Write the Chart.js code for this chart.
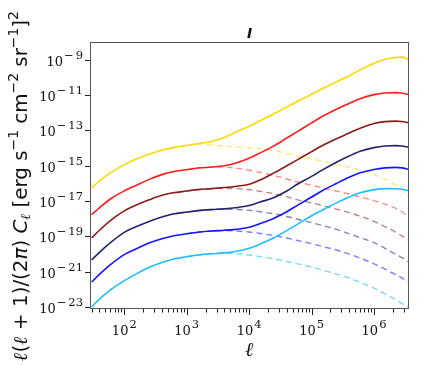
<!DOCTYPE html>
<html><head><meta charset="utf-8">
<script src="https://cdn.jsdelivr.net/npm/chart.js@4/dist/chart.umd.min.js"></script>
<style>html,body{margin:0;padding:0;background:#fff}canvas{display:block}</style>
</head><body>
<canvas id="c" width="424" height="366"></canvas>
<script>
// multipoles for the solid curves
const ell = [30,40,60,100,150,250,400,600,1000,1500,2500,4000,6000,1e4,1.5e4,2.5e4,4e4,6e4,1e5,1.5e5,2.5e5,4e5,6e5,1e6,1.5e6,2.2e6,2.8e6,3.5e6];
// multipoles for the dashed curves
const ellDashed = [1000,1500,2500,4000,6000,1e4,1.5e4,2.5e4,4e4,6e4,1e5,1.5e5,2.5e5,4e5,6e5,1e6,1.5e6,2.2e6,2.8e6,3.5e6];

// solid curves
const yellowSolid = [6.31e-17,1.58e-16,4.47e-16,1.26e-15,2.51e-15,5.01e-15,8.51e-15,1.20e-14,1.58e-14,2.00e-14,2.69e-14,4.47e-14,8.91e-14,1.91e-13,3.98e-13,1.0e-12,2.34e-12,5.01e-12,1.26e-11,2.63e-11,6.31e-11,1.41e-10,3.02e-10,7.08e-10,1.20e-9,1.51e-9,1.58e-9,1.17e-9];
const redSolid = [1.91e-18,4.68e-18,1.48e-17,4.27e-17,8.32e-17,1.91e-16,3.55e-16,5.13e-16,6.76e-16,8.32e-16,9.55e-16,1.12e-15,1.58e-15,3.02e-15,6.03e-15,1.51e-14,4.17e-14,1.0e-13,3.02e-13,7.08e-13,1.78e-12,3.80e-12,7.08e-12,1.20e-11,1.48e-11,1.55e-11,1.48e-11,1.20e-11];
const darkRedSolid = [9.12e-20,2.51e-19,8.91e-19,3.16e-18,6.31e-18,1.32e-17,2.40e-17,3.31e-17,4.17e-17,5.01e-17,5.75e-17,6.61e-17,7.59e-17,1.0e-16,1.78e-16,4.47e-16,1.12e-15,2.51e-15,7.08e-15,1.58e-14,3.80e-14,7.94e-14,1.51e-13,2.75e-13,3.55e-13,3.80e-13,3.63e-13,3.09e-13];
const navySolid = [5.25e-21,1.41e-20,5.01e-20,1.91e-19,3.80e-19,7.94e-19,1.41e-18,2.09e-18,2.69e-18,3.24e-18,3.72e-18,4.07e-18,4.68e-18,6.31e-18,1.0e-17,1.78e-17,4.17e-17,1.05e-16,2.82e-16,6.61e-16,1.78e-15,3.98e-15,7.41e-15,1.20e-14,1.48e-14,1.55e-14,1.48e-14,1.29e-14];
const blueSolid = [2.95e-22,7.94e-22,2.82e-21,1.05e-20,2.09e-20,4.79e-20,8.32e-20,1.20e-19,1.58e-19,1.95e-19,2.29e-19,2.51e-19,2.82e-19,3.72e-19,6.03e-19,1.20e-18,2.82e-18,6.61e-18,1.91e-17,4.47e-17,1.12e-16,2.51e-16,4.47e-16,6.92e-16,8.51e-16,9.12e-16,8.51e-16,7.08e-16];
const cyanSolid = [1.15e-23,3.16e-23,1.05e-22,3.55e-22,7.94e-22,2.00e-21,3.80e-21,5.75e-21,7.94e-21,1.0e-20,1.17e-20,1.32e-20,1.58e-20,2.40e-20,4.17e-20,9.55e-20,2.40e-19,5.62e-19,1.66e-18,3.55e-18,8.91e-18,1.91e-17,3.31e-17,5.01e-17,5.75e-17,5.62e-17,5.25e-17,4.47e-17];

// dashed curves
const yellowDashed = [1.58e-14,1.91e-14,1.66e-14,1.45e-14,1.32e-14,1.17e-14,1.05e-14,7.94e-15,5.62e-15,3.98e-15,2.82e-15,2.00e-15,1.35e-15,9.33e-16,6.31e-16,3.55e-16,2.00e-16,8.91e-17,4.47e-17,2.24e-17];
const redDashed = [6.76e-16,8.32e-16,9.33e-16,9.55e-16,8.32e-16,6.31e-16,4.68e-16,3.16e-16,2.00e-16,1.35e-16,8.91e-17,6.31e-17,4.17e-17,2.82e-17,1.91e-17,1.20e-17,7.59e-18,4.47e-18,2.82e-18,1.51e-18];
const darkRedDashed = [4.17e-17,5.01e-17,5.75e-17,6.03e-17,5.75e-17,5.01e-17,3.98e-17,2.95e-17,2.00e-17,1.32e-17,8.91e-18,6.31e-18,3.98e-18,2.51e-18,1.58e-18,7.94e-19,3.98e-19,2.00e-19,1.20e-19,7.08e-20];
const navyDashed = [2.69e-18,3.24e-18,3.72e-18,3.98e-18,3.80e-18,3.39e-18,2.82e-18,2.14e-18,1.51e-18,1.05e-18,6.76e-19,4.68e-19,2.82e-19,1.58e-19,9.55e-20,5.01e-20,2.40e-20,1.12e-20,7.08e-21,4.17e-21];
const blueDashed = [1.58e-19,1.95e-19,2.29e-19,2.40e-19,2.29e-19,2.00e-19,1.66e-19,1.26e-19,9.12e-20,6.61e-20,4.37e-20,3.02e-20,1.91e-20,1.12e-20,6.61e-21,3.16e-21,1.58e-21,7.94e-22,5.01e-22,2.95e-22];
const cyanDashed = [7.94e-21,1.0e-20,1.17e-20,1.26e-20,1.17e-20,1.0e-20,7.94e-21,6.03e-21,4.37e-21,3.16e-21,2.09e-21,1.41e-21,8.32e-22,5.01e-22,2.82e-22,1.32e-22,6.31e-23,3.02e-23,1.78e-23,1.12e-23];

// axis tick labels (powers of ten)
const xTickExponents = [2,3,4,5,6];
const yTickExponents = [-23,-21,-19,-17,-15,-13,-11,-9];
const titleText = 'I';
const xTitle = 'ℓ';

const colors = ['#FFD700','#FF1A1A','#8B1A1A','#23236E','#1414FF','#1EBEFF'];
const dashedColors = ['rgba(255,215,0,0.55)','rgba(255,26,26,0.5)','rgba(139,26,26,0.55)','rgba(35,35,110,0.55)','rgba(20,20,255,0.55)','rgba(30,190,255,0.6)'];

function pts(xs, ys){ return xs.map((x,i)=>({x:x, y:ys[i]})); }
const solids = [yellowSolid, redSolid, darkRedSolid, navySolid, blueSolid, cyanSolid];
const dashes = [yellowDashed, redDashed, darkRedDashed, navyDashed, blueDashed, cyanDashed];
const datasets = [];
solids.forEach((s,i)=>datasets.push({data:pts(ell,s), borderColor:colors[i], borderWidth:1.6, pointRadius:0, fill:false, cubicInterpolationMode:'monotone'}));
dashes.forEach((s,i)=>datasets.push({data:pts(ellDashed,s), borderColor:dashedColors[i], borderWidth:1.4, borderDash:[6,4], pointRadius:0, fill:false, cubicInterpolationMode:'monotone'}));

const SERIF = "'DejaVu Serif', serif";
const BASE_FONT = '13px ' + SERIF, EXP_FONT = '11.5px ' + SERIF;
function drawPow(ctx, exp, x, yBase, align){
  const base = '10';
  const neg = exp < 0, digits = String(Math.abs(exp));
  ctx.font = BASE_FONT; const wb = ctx.measureText(base).width;
  ctx.font = EXP_FONT;
  const wm = neg ? ctx.measureText('\u2212').width + 2 : 0;
  const wd = ctx.measureText(digits).width;
  const gap = 1;
  const tot = wb + gap + wm + wd;
  const x0 = align === 'right' ? x - tot : x - tot/2;
  ctx.textAlign = 'left'; ctx.textBaseline = 'alphabetic';
  ctx.font = BASE_FONT; ctx.fillText(base, x0, yBase);
  ctx.font = EXP_FONT;
  const ye = yBase - 6.5;
  if (neg) ctx.fillText('\u2212', x0 + wb + gap, ye);
  ctx.fillText(digits, x0 + wb + gap + wm, ye);
}

function drawRich(ctx, parts, s){
  let x = 0;
  const fontFor = p => {
    const sz = (p.sup||p.sub) ? s*0.7 : s;
    if (p.l) return 'italic bold ' + sz + "px 'DejaVu Serif'";
    return (p.m ? 'italic ' : '') + sz + "px 'DejaVu Sans'";
  };
  parts.forEach(p=>{ ctx.font = fontFor(p); x += ctx.measureText(p.t).width; });
  return {width:x, draw:(x0,y0)=>{
    let xx = x0;
    parts.forEach(p=>{
      ctx.font = fontFor(p);
      const dy = p.sup ? -s*0.42 : (p.sub ? s*0.2 : 0);
      ctx.fillText(p.t, xx, y0 + dy);
      xx += ctx.measureText(p.t).width;
    });
  }};
}
const yTitleParts = [
  {t:'ℓ',l:1},{t:'('},{t:'ℓ',l:1},{t:' + 1)/(2'},{t:'π',m:1},{t:') '},{t:'C',m:1},{t:'ℓ',l:1,sub:1},
  {t:' [erg s'},{t:'\u22121',sup:1},{t:' cm'},{t:'\u22122',sup:1},{t:' sr'},{t:'\u22121',sup:1},{t:']'},{t:'2',sup:1}
];

const deco = {
  id:'deco',
  beforeDraw(chart){ const c=chart.ctx; c.save(); c.fillStyle='#fff'; c.fillRect(0,0,chart.width,chart.height); c.restore(); },
  afterDraw(chart){
    const ctx = chart.ctx, a = chart.chartArea, xs = chart.scales.x, ys = chart.scales.y;
    ctx.save();
    ctx.strokeStyle = '#555'; ctx.lineWidth = 1;
    ctx.strokeRect(a.left - 0.5, a.top - 0.5, a.right - a.left + 1, a.bottom - a.top + 1);
    ctx.strokeStyle = '#222'; ctx.fillStyle = '#111';
    yTickExponents.forEach(e=>{
      const py = Math.round(ys.getPixelForValue(Math.pow(10,e))) - 0.5;
      ctx.beginPath(); ctx.moveTo(a.left - 6, py); ctx.lineTo(a.left - 1, py); ctx.stroke();
      drawPow(ctx, e, a.left - 8, py + 5, 'right');
    });
    const lo = xs.min, hi = xs.max;
    for (let d = 1; d <= 6; d++){
      for (let m = 1; m <= 9; m++){
        const v = m * Math.pow(10,d);
        if (v < lo*0.999 || v > hi*1.001) continue;
        const px = Math.round(xs.getPixelForValue(v)) + 0.5;
        const len = m === 1 ? 6 : 3.5;
        ctx.beginPath(); ctx.moveTo(px, a.bottom + 1); ctx.lineTo(px, a.bottom + 1 + len); ctx.stroke();
      }
    }
    xTickExponents.forEach(e=>{
      const px = xs.getPixelForValue(Math.pow(10,e));
      drawPow(ctx, e, px, 334.5, 'center');
    });
    ctx.textAlign = 'center'; ctx.textBaseline = 'alphabetic';
    ctx.font = "italic bold 20px 'DejaVu Serif'";
    ctx.fillText(xTitle, (a.left + a.right)/2, 355.5);
    ctx.font = "italic bold 14px 'DejaVu Sans'";
    ctx.fillText(titleText, (a.left + a.right)/2, 37.5);
    ctx.textAlign = 'left';
    let s = 16;
    let r = drawRich(ctx, yTitleParts, s);
    s = s * 350 / r.width;
    r = drawRich(ctx, yTitleParts, s);
    ctx.translate(26.5, 186);
    ctx.rotate(-Math.PI/2);
    r.draw(-r.width/2, 0);
    ctx.restore();
  }
};

new Chart(document.getElementById('c'), {
  type:'line',
  data:{datasets:datasets},
  options:{
    responsive:false, animation:false, events:[],
    layout:{padding:{left:91, right:16, top:43, bottom:58}},
    scales:{
      x:{type:'logarithmic', display:false, min:29.3, max:3.5e6},
      y:{type:'logarithmic', display:false, min:1e-23, max:1e-8}
    },
    plugins:{legend:{display:false}, tooltip:{enabled:false}, title:{display:false}}
  },
  plugins:[deco]
});
</script>
</body></html>
